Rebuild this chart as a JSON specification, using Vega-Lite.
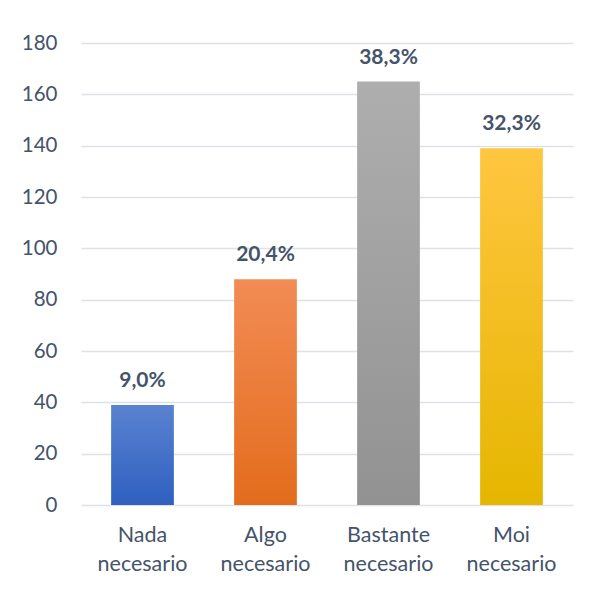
{
  "$schema": "https://vega.github.io/schema/vega-lite/v6.json",
  "width": 492,
  "height": 462,
  "autosize": {"type": "none"},
  "padding": {"left": 81, "top": 43, "right": 17, "bottom": 85},
  "background": "white",
  "config": {"view": {"stroke": null}, "font": "Lato"},
  "data": {"values": [
    {"cat": "Nada necesario", "n": 39, "pct": "9,0%"},
    {"cat": "Algo necesario", "n": 88, "pct": "20,4%"},
    {"cat": "Bastante necesario", "n": 165, "pct": "38,3%"},
    {"cat": "Moi necesario", "n": 139, "pct": "32,3%"}
  ]},
  "encoding": {
    "x": {"field": "cat", "type": "nominal", "sort": null,
      "scale": {"paddingInner": 0.49, "paddingOuter": 0.245},
      "axis": {"title": null, "labelAngle": 0, "domain": false, "ticks": false,
        "labelExpr": "split(datum.value, ' ')", "labelFont": "Lato", "labelFontSize": 21.5,
        "labelColor": "#44546A", "labelLineHeight": 29, "labelPadding": 19, "labelBaseline": "top"}},
    "y": {"field": "n", "type": "quantitative",
      "scale": {"domain": [0, 180], "nice": false},
      "axis": {"title": null, "values": [0,20,40,60,80,100,120,140,160,180], "domain": false, "ticks": false,
        "labelFont": "Lato", "labelFontSize": 20.5, "labelColor": "#44546A", "labelPadding": 24,
        "gridColor": "#DEE2E7", "gridWidth": 1.5}}
  },
  "layer": [
    {"transform": [{"filter": "datum.cat === 'Nada necesario'"}],
     "mark": {"type": "bar", "color": {"gradient": "linear", "x1": 0, "y1": 0, "x2": 0, "y2": 1,
       "stops": [{"offset": 0, "color": "#5A82D0"}, {"offset": 1, "color": "#2F60C0"}]}}},
    {"transform": [{"filter": "datum.cat === 'Algo necesario'"}],
     "mark": {"type": "bar", "color": {"gradient": "linear", "x1": 0, "y1": 0, "x2": 0, "y2": 1,
       "stops": [{"offset": 0, "color": "#F28C55"}, {"offset": 1, "color": "#E36C1C"}]}}},
    {"transform": [{"filter": "datum.cat === 'Bastante necesario'"}],
     "mark": {"type": "bar", "color": {"gradient": "linear", "x1": 0, "y1": 0, "x2": 0, "y2": 1,
       "stops": [{"offset": 0, "color": "#AEAEAE"}, {"offset": 1, "color": "#929292"}]}}},
    {"transform": [{"filter": "datum.cat === 'Moi necesario'"}],
     "mark": {"type": "bar", "color": {"gradient": "linear", "x1": 0, "y1": 0, "x2": 0, "y2": 1,
       "stops": [{"offset": 0, "color": "#FFC640"}, {"offset": 1, "color": "#E5B600"}]}}},
    {"mark": {"type": "text", "font": "Lato", "fontSize": 21, "fontWeight": "bold", "color": "#44546A",
      "baseline": "alphabetic", "dy": -18},
     "encoding": {"text": {"field": "pct"}}}
  ]
}
